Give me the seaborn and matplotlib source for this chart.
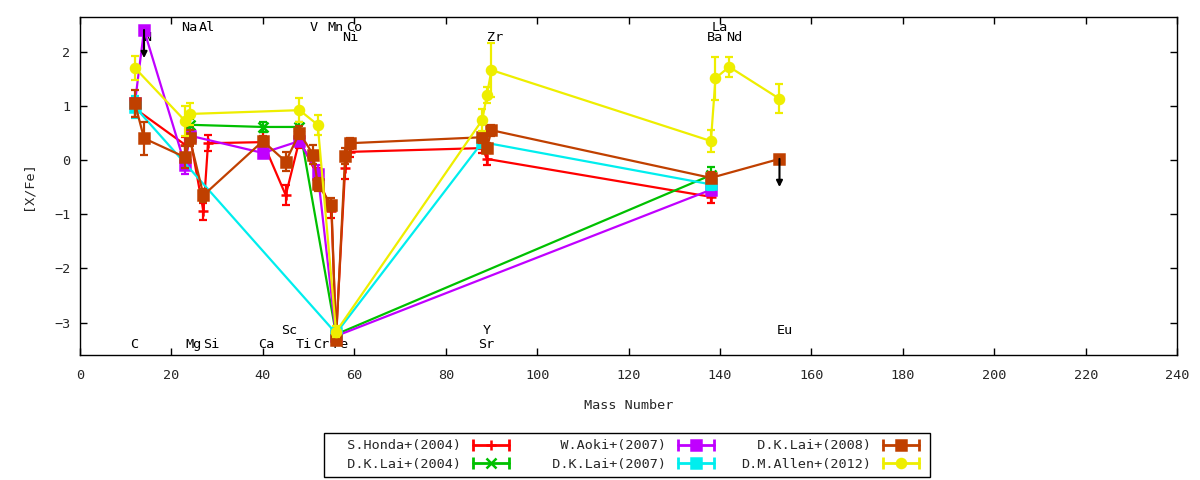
"""
Abundance pattern [X/Fe] vs mass number for one star, several studies
"""

import pandas as pd
import matplotlib.pyplot as plt
import seaborn as sns
from matplotlib.lines import Line2D
from matplotlib.legend_handler import HandlerLine2D

# ---------------------------------------------------------------------------
# data
# ---------------------------------------------------------------------------
studies = ["S.Honda+(2004)", "D.K.Lai+(2004)", "W.Aoki+(2007)",
           "D.K.Lai+(2007)", "D.K.Lai+(2008)", "D.M.Allen+(2012)"]
colors = ["#ff0000", "#00c000", "#c000ff", "#00eeee", "#c04000", "#eeee00"]
markers = ["+", "x", "s", "s", "s", "o"]

honda_mass = [12, 23, 24, 27, 28, 40, 45, 48, 52, 55, 56, 58, 59, 88, 89, 138]
honda_xfe = [0.95, 0.28, 0.45, -0.95, 0.31, 0.33, -0.65, 0.37, -0.30, -0.95,
             -3.25, -0.15, 0.15, 0.22, 0.02, -0.68]
honda_err = [0.15, 0.15, 0.15, 0.15, 0.15, 0.18, 0.18, 0.15, 0.15, 0.12,
             0.10, 0.20, 0.10, 0.10, 0.12, 0.12]

lai04_mass = [24, 40, 48, 56, 138]
lai04_xfe = [0.65, 0.61, 0.61, -3.22, -0.28]
lai04_err = [0.10, 0.10, 0.10, 0.10, 0.15]

aoki_mass = [12, 14, 23, 24, 40, 48, 52, 56, 138]
aoki_xfe = [1.05, 2.40, -0.10, 0.45, 0.13, 0.35, -0.25, -3.25, -0.55]
aoki_err = [0.10, 0.0, 0.15, 0.10, 0.10, 0.10, 0.15, 0.10, 0.10]
aoki_ulim = [False, True, False, False, False, False, False, False, False]

lai07_mass = [12, 56, 88, 138]
lai07_xfe = [0.98, -3.20, 0.33, -0.45]
lai07_err = [0.20, 0.10, 0.10, 0.10]

lai08_mass = [12, 14, 23, 24, 27, 40, 45, 48, 51, 52, 55, 56, 58, 59,
              88, 89, 90, 138, 153]
lai08_xfe = [1.05, 0.40, 0.05, 0.40, -0.65, 0.35, -0.03, 0.50, 0.10, -0.45,
             -0.83, -3.32, 0.08, 0.31, 0.42, 0.22, 0.55, -0.33, 0.02]
lai08_err = [0.25, 0.30, 0.20, 0.15, 0.12, 0.10, 0.18, 0.12, 0.18, 0.12,
             0.12, 0.10, 0.15, 0.10, 0.10, 0.10, 0.10, 0.10, 0.0]
lai08_ulim = [False] * 18 + [True]

allen_mass = [12, 23, 24, 48, 52, 56, 88, 89, 90, 138, 139, 142, 153]
allen_xfe = [1.70, 0.72, 0.85, 0.92, 0.65, -3.17, 0.74, 1.20, 1.66, 0.35,
             1.51, 1.72, 1.13]
allen_err = [0.22, 0.28, 0.20, 0.22, 0.18, 0.10, 0.20, 0.15, 0.50, 0.20,
             0.40, 0.18, 0.27]

# element names written in the plot (x = position of label centre)
label_names = ["Na", "Al", "V", "Mn", "Co", "La",
               "N", "Ni", "Zr", "Ba", "Nd",
               "Sc", "Y", "Eu",
               "C", "Mg", "Si", "Ca", "Ti", "Cr", "Fe", "Sr"]
label_x = [23.9, 27.7, 51.1, 55.9, 59.9, 139.9,
           14.6, 59.0, 90.9, 139.0, 143.0,
           45.7, 89.0, 154.1,
           11.9, 24.8, 28.7, 40.8, 49.0, 52.8, 56.9, 88.9]
label_y = [2.45] * 6 + [2.27] * 5 + [-3.15] * 3 + [-3.41] * 8

FS = 9.7


def make_frame():
    rows = []
    sets = [
        (honda_mass, honda_xfe, honda_err, None),
        (lai04_mass, lai04_xfe, lai04_err, None),
        (aoki_mass, aoki_xfe, aoki_err, aoki_ulim),
        (lai07_mass, lai07_xfe, lai07_err, None),
        (lai08_mass, lai08_xfe, lai08_err, lai08_ulim),
        (allen_mass, allen_xfe, allen_err, None),
    ]
    for name, (m, v, e, u) in zip(studies, sets):
        if u is None:
            u = [False] * len(m)
        rows.append(pd.DataFrame({"study": name, "mass": m, "xfe": v,
                                  "err": e, "ulim": u}))
    return pd.concat(rows, ignore_index=True)


df = make_frame()

sns.set_theme(style="ticks")
plt.rcParams["font.family"] = ["DejaVu Sans Mono"]
plt.rcParams["font.size"] = FS

fig, ax = plt.subplots(figsize=(12, 4.8), dpi=100)
fig.subplots_adjust(left=0.0667, right=0.981, top=0.9646, bottom=0.2604)

# element labels sit behind the data
for name, x, y in zip(label_names, label_x, label_y):
    ax.text(x, y, name, ha="center", va="center", fontsize=FS,
            color="black", zorder=1)

handles = []
hmap = {}
for i, name in enumerate(studies):
    d = df[df["study"] == name]
    c = colors[i]
    ms = 7.5 if markers[i] == "s" else 6.5
    sns.lineplot(data=d, x="mass", y="xfe", sort=False, estimator=None,
                 color=c, lw=1.6, marker=markers[i], markersize=ms,
                 markeredgecolor=c, markerfacecolor=c, markeredgewidth=1.8,
                 ax=ax, zorder=3 + i, legend=False)
    eb = d[d["err"] > 0]
    ax.errorbar(eb["mass"], eb["xfe"], yerr=eb["err"], fmt="none",
                ecolor=c, elinewidth=1.6, capsize=3, capthick=1.6,
                zorder=3 + i)
    # upper limits as black arrows
    for _, r in d[d["ulim"]].iterrows():
        ax.annotate("", xy=(r["mass"], r["xfe"] - 0.52),
                    xytext=(r["mass"], r["xfe"]),
                    arrowprops=dict(arrowstyle="-|>", color="black", lw=1.5,
                                    mutation_scale=9, shrinkA=0, shrinkB=0),
                    zorder=3 + i)

    caps = Line2D([], [], color=c, lw=2, marker="|", markersize=9,
                  markeredgewidth=2)
    mk = Line2D([], [], color=c, ls="none", marker=markers[i], markersize=ms,
                markeredgecolor=c, markeredgewidth=1.8)
    hmap[caps] = HandlerLine2D(numpoints=2)
    handles.append((caps, mk))

ax.set_xlim(0, 240)
ax.set_ylim(-3.6, 2.64)
ax.set_xticks(range(0, 241, 20))
ax.set_yticks(range(-3, 3))
ax.set_xlabel("Mass Number", fontsize=FS, labelpad=12)
ax.set_ylabel("[X/Fe]", fontsize=FS, labelpad=14)
ax.tick_params(direction="in", top=True, right=True, length=5, width=1,
               labelsize=FS, color="black")
ax.tick_params(axis="x", pad=10)
ax.tick_params(axis="y", pad=7)
for s in ax.spines.values():
    s.set_color("black")
    s.set_linewidth(1)

# gnuplot-like key: equal-width, right-justified text columns
width = max(len(s) for s in studies)
key_labels = [s.rjust(width) for s in studies]
leg = fig.legend(handles, key_labels, handler_map=hmap, ncol=3,
                 loc="center", bbox_to_anchor=(0.5225, 0.052),
                 markerfirst=False, handlelength=3.27, handletextpad=0.6,
                 columnspacing=1.7, labelspacing=0.4, borderpad=0.5,
                 fontsize=FS, fancybox=False, framealpha=1,
                 edgecolor="black")
leg.get_frame().set_linewidth(1)

plt.savefig("out.png", dpi=100)
